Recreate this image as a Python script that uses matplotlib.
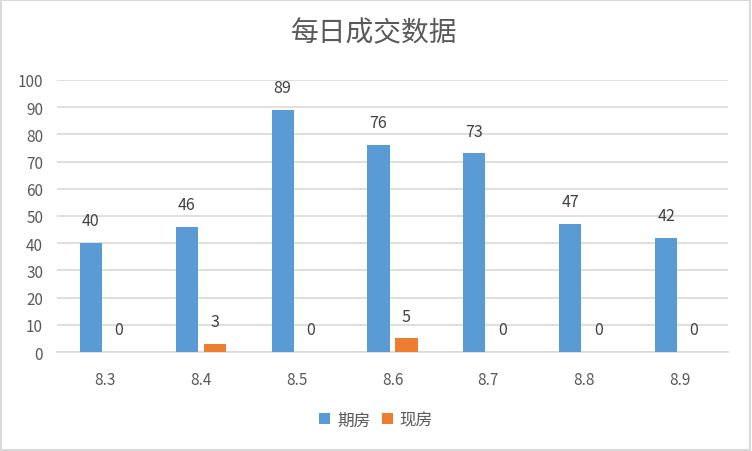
import numpy as np
import matplotlib
matplotlib.use("Agg")
import matplotlib.pyplot as plt
from matplotlib.patches import Rectangle

plt.rcParams['font.family'] = ['Noto Sans CJK SC', 'DejaVu Sans']

# 数据
categories = ["8.3", "8.4", "8.5", "8.6", "8.7", "8.8", "8.9"]
qifang = [40, 46, 89, 76, 73, 47, 42]
xianfang = [0, 3, 0, 5, 0, 0, 0]
series_names = ["期房", "现房"]

blue = "#5b9bd5"
orange = "#ed7d31"
text_col = "#595959"

fig = plt.figure(figsize=(7.52, 4.52), dpi=100)
ax = fig.add_axes([57 / 752, 0.219, 671 / 752, 0.602])

x = np.arange(len(categories))
w = 0.23
off = 0.146
b1 = ax.bar(x - off, qifang, w, color=blue, label=series_names[0], zorder=3)
b2 = ax.bar(x + off, xianfang, w, color=orange, label=series_names[1], zorder=3)

# 数值标签
for bars in (b1, b2):
    for r in bars:
        h = r.get_height()
        ax.annotate(f"{int(h)}", (r.get_x() + r.get_width() / 2, h),
                    xytext=(0, 16), textcoords="offset points",
                    ha="center", va="center", fontsize=11.5, color="#404040")

ax.set_xlim(-0.5, len(categories) - 0.5)
ax.set_ylim(0, 100)
ax.set_yticks(range(0, 101, 10))
ax.set_xticks(x)
ax.set_xticklabels(categories)
ax.grid(axis="y", color="#d9d9d9", linewidth=1.2, zorder=0)
ax.tick_params(axis="both", length=0, labelsize=11, colors=text_col)
ax.tick_params(axis="x", pad=14)
ax.tick_params(axis="y", pad=10)
for s in ["top", "right", "left"]:
    ax.spines[s].set_visible(False)
ax.spines["bottom"].set_color("#d9d9d9")
ax.spines["bottom"].set_linewidth(1.2)

fig.text(0.497, 0.927, "每日成交数据", ha="center", va="center",
         fontsize=20, color=text_col, fontweight="light")

fig.legend(loc="center", bbox_to_anchor=(0.5, 0.068), ncol=2, frameon=False,
           fontsize=12, handlelength=0.65, handleheight=0.65, handletextpad=0.4,
           columnspacing=0.7, labelcolor=text_col)

# 外框
fig.patches.append(Rectangle((0.001, 0.002), 0.997, 0.995, transform=fig.transFigure,
                             fill=False, edgecolor="#d9d9d9", linewidth=1.5))

plt.savefig("out.png", dpi=100)
